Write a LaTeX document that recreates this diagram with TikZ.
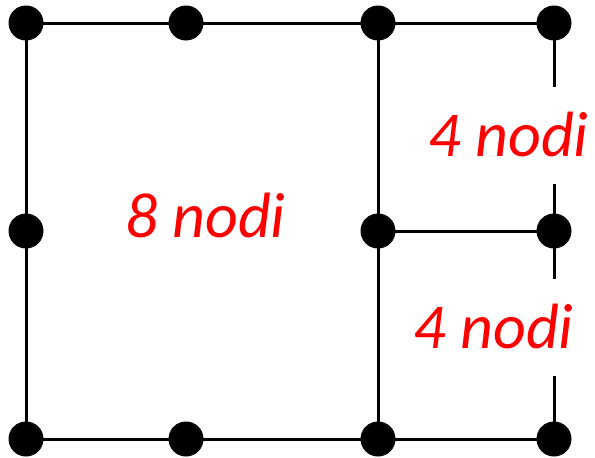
\documentclass[tikz,border=0pt]{standalone}
\usepackage{fontspec}
\setmainfont{Carlito}
\begin{document}
\begin{tikzpicture}[x=1pt,y=-1pt,
  dot/.style={circle,fill=black,inner sep=0pt,minimum size=35pt},
  edge/.style={line width=3pt},
  lbl/.style={text=red,font=\fontsize{64}{64}\selectfont\itshape,inner sep=0pt},
  lblbox/.style={lbl,fill=white,text height=42pt,text depth=0pt,minimum height=97pt,inner xsep=4pt}]
\useasboundingbox (0,0) rectangle (595,458);
% node positions
\coordinate (t1) at (26,23);
\coordinate (t2) at (186,23);
\coordinate (t3) at (378,23);
\coordinate (t4) at (554,23);
\coordinate (m1) at (26,231);
\coordinate (m3) at (378,231);
\coordinate (m4) at (554,231);
\coordinate (b1) at (26,439);
\coordinate (b2) at (186,439);
\coordinate (b3) at (378,439);
\coordinate (b4) at (554,439);
% edges
\draw[edge] (t1) -- (t2) -- (t3) -- (t4);
\draw[edge] (b1) -- (b2) -- (b3) -- (b4);
\draw[edge] (t1) -- (m1) -- (b1);
\draw[edge] (t3) -- (m3) -- (b3);
\draw[edge] (m3) -- (m4);
\draw[edge] (t4) -- (m4) -- (b4);
% labels
\node[lbl,text height=42pt,text depth=0pt] (L8) at (205.5,216.5) {8 nodi};
\node[lblbox] (L4a) at (508.5,135.5) {4 nodi};
\node[lblbox] (L4b) at (493.5,327.5) {4 nodi};
% dots
\foreach \n in {t1,t2,t3,t4,m1,m3,m4,b1,b2,b3,b4}
  \node[dot] (d\n) at (\n) {};
\end{tikzpicture}
\end{document}
